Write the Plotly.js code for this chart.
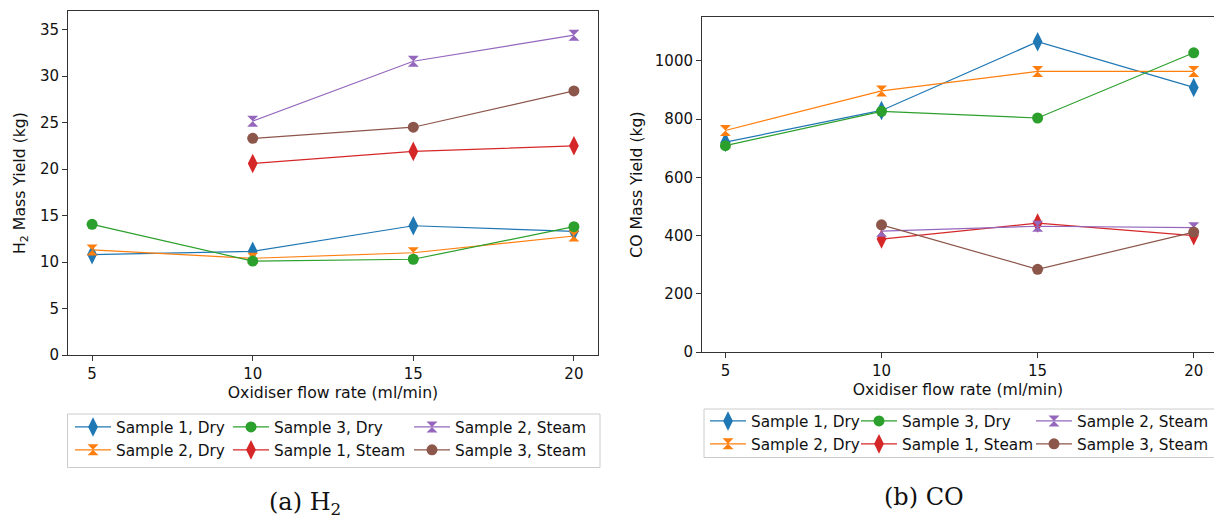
<!DOCTYPE html>
<html>
<head>
<meta charset="utf-8">
<script src="https://cdn.plot.ly/plotly-3.0.1.min.js"></script>
<style>
  html, body { margin: 0; padding: 0; background: #fff; }
  #chart { width: 1214px; height: 523px; }
</style>
</head>
<body>
<div id="chart"></div>
<script>
// ---- data ----
const flowRates = [5, 10, 15, 20];
const steamFlowRates = [10, 15, 20];

const seriesNames = ['Sample 1, Dry', 'Sample 2, Dry', 'Sample 3, Dry',
                     'Sample 1, Steam', 'Sample 2, Steam', 'Sample 3, Steam'];

// H2 mass yield (kg)
const h2S1Dry = [10.8, 11.15, 13.9, 13.3];
const h2S2Dry = [11.3, 10.4, 11.0, 12.8];
const h2S3Dry = [14.05, 10.1, 10.3, 13.8];
const h2S1Steam = [20.6, 21.9, 22.5];
const h2S2Steam = [25.15, 31.6, 34.4];
const h2S3Steam = [23.3, 24.5, 28.4];

// CO mass yield (kg)
const coS1Dry = [721, 830, 1066, 909];
const coS2Dry = [761, 897, 964, 964];
const coS3Dry = [709, 827, 804, 1028];
const coS1Steam = [388, 443, 400];
const coS2Steam = [415, 432, 427];
const coS3Steam = [437, 284, 412];

const h2TickVals = [0, 5, 10, 15, 20, 25, 30, 35];
const coTickVals = [0, 200, 400, 600, 800, 1000];
const xTickVals = [5, 10, 15, 20];

// ---- styles ----
const colors = ['#1f77b4', '#ff7f0e', '#2ca02c', '#d62728', '#9467bd', '#8c564b'];
const symbols = ['diamond-tall', 'hourglass', 'circle', 'diamond-tall', 'hourglass', 'circle'];
const sizes = [14, 11, 11, 14, 11, 11];

const W = 1214, H = 523;
const px = v => v / W;
const py = v => (H - v) / H;

// legend column assignment (matplotlib fills columns top-to-bottom)
const legendCols = [0, 0, 1, 1, 2, 2];

function makeTraces(ysets, xaxis, yaxis, legendBase) {
  return ysets.map((ys, i) => ({
    type: 'scatter',
    mode: 'lines+markers',
    name: seriesNames[i],
    x: i < 3 ? flowRates : steamFlowRates,
    y: ys,
    xaxis: xaxis,
    yaxis: yaxis,
    legend: 'legend' + ((legendBase + legendCols[i]) === 1 ? '' : (legendBase + legendCols[i])),
    line: { color: colors[i], width: 1.2 },
    marker: { color: colors[i], symbol: symbols[i], size: sizes[i], line: { width: 0 } },
    hoverinfo: 'skip'
  }));
}

const data = [].concat(
  makeTraces([h2S1Dry, h2S2Dry, h2S3Dry, h2S1Steam, h2S2Steam, h2S3Steam], 'x', 'y', 1),
  makeTraces([coS1Dry, coS2Dry, coS3Dry, coS1Steam, coS2Steam, coS3Steam], 'x2', 'y2', 4)
);

const axisCommon = {
  showgrid: false, zeroline: false, showline: true,
  linecolor: '#333', linewidth: 1,
  ticks: 'outside', ticklen: 5, tickwidth: 1, tickcolor: '#333',
  tickfont: { family: 'DejaVu Sans', size: 15, color: '#111' },
  automargin: false
};

function legendAt(xPix, yTopPix) {
  return {
    x: px(xPix), y: py(yTopPix), xanchor: 'left', yanchor: 'top',
    orientation: 'v', bgcolor: 'rgba(0,0,0,0)', borderwidth: 0,
    itemwidth: 36, tracegroupgap: 0,
    font: { family: 'DejaVu Sans', size: 15.3, color: '#111' }
  };
}

const titleFont = { family: 'DejaVu Sans', size: 15.7, color: '#111' };

const layout = {
  width: W, height: H,
  margin: { l: 0, r: 0, t: 0, b: 0 },
  paper_bgcolor: '#fff', plot_bgcolor: '#fff',
  font: { family: 'DejaVu Sans', size: 15, color: '#111' },
  showlegend: true,
  xaxis: Object.assign({}, axisCommon, {
    domain: [px(68), px(598)], range: [4.25, 20.75], anchor: 'y',
    tickvals: xTickVals, mirror: true,
    title: { text: 'Oxidiser flow rate (ml/min)', standoff: 5, font: titleFont }
  }),
  yaxis: Object.assign({}, axisCommon, {
    domain: [py(355), py(11)], range: [0, 37], anchor: 'x',
    tickvals: h2TickVals, mirror: true,
    title: { text: 'H<sub>2</sub> Mass Yield (kg)', standoff: 10, font: titleFont }
  }),
  xaxis2: Object.assign({}, axisCommon, {
    domain: [px(702), 1], range: [4.25, 20.65], anchor: 'y2',
    tickvals: xTickVals, mirror: true,
    title: { text: 'Oxidiser flow rate (ml/min)', standoff: 5, font: titleFont }
  }),
  yaxis2: Object.assign({}, axisCommon, {
    domain: [py(352), py(17)], range: [0, 1151], anchor: 'x2',
    tickvals: coTickVals, mirror: false,
    title: { text: 'CO Mass Yield (kg)', standoff: 8, font: titleFont }
  }),
  legend: legendAt(70, 410.5),
  legend2: legendAt(228, 410.5),
  legend3: legendAt(409, 410.5),
  legend4: legendAt(705, 404.5),
  legend5: legendAt(856, 404.5),
  legend6: legendAt(1031, 404.5),
  shapes: [
    { type: 'rect', xref: 'paper', yref: 'paper', layer: 'below',
      x0: px(67.5), x1: px(600), y0: py(467.5), y1: py(414),
      line: { color: '#cccccc', width: 1 }, fillcolor: 'rgba(255,255,255,0)' },
    { type: 'rect', xref: 'paper', yref: 'paper', layer: 'below',
      x0: px(704), x1: px(1222), y0: py(457.5), y1: py(409),
      line: { color: '#cccccc', width: 1 }, fillcolor: 'rgba(255,255,255,0)' }
  ],
  annotations: [
    { xref: 'paper', yref: 'paper', x: px(305), y: py(503), xanchor: 'center', yanchor: 'middle',
      showarrow: false, text: '(a) H<sub>2</sub>',
      font: { family: 'DejaVu Serif', size: 24, color: '#111' } },
    { xref: 'paper', yref: 'paper', x: px(924), y: py(497), xanchor: 'center', yanchor: 'middle',
      showarrow: false, text: '(b) CO',
      font: { family: 'DejaVu Serif', size: 24, color: '#111' } }
  ]
};

Plotly.newPlot('chart', data, layout, { displayModeBar: false, staticPlot: true });
</script>
</body>
</html>
